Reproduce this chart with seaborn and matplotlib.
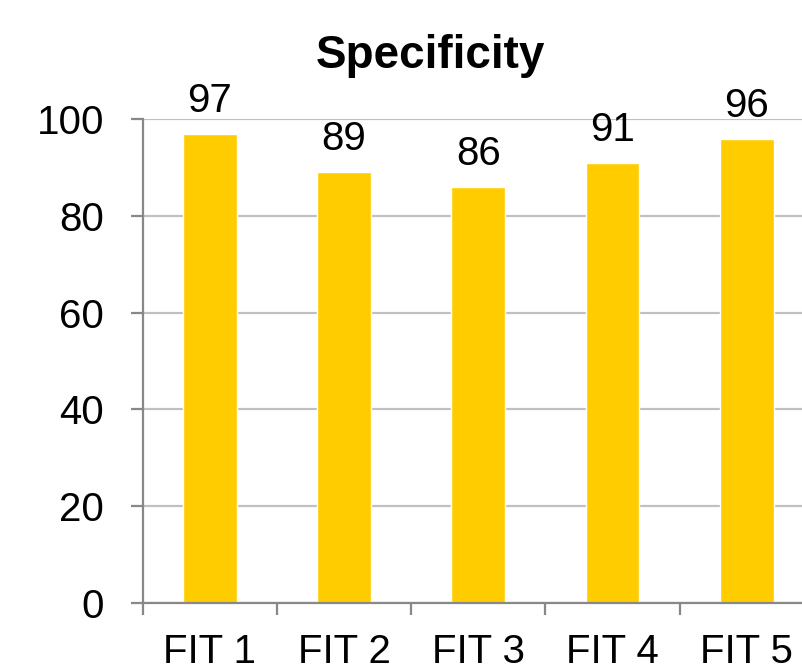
import matplotlib
matplotlib.use("Agg")
import matplotlib.pyplot as plt
import seaborn as sns
import pandas as pd
import numpy as np
from matplotlib.ticker import FixedLocator

categories = ["FIT 1", "FIT 2", "FIT 3", "FIT 4", "FIT 5"]
values = [97, 89, 86, 91, 96]
yticks = [0, 20, 40, 60, 80, 100]
title = "Specificity"

sns.set_theme(style="white")
plt.rcParams['font.family'] = ['Liberation Sans', 'DejaVu Sans']

df = pd.DataFrame({"cat": categories, "val": values})

fig = plt.figure(figsize=(8.03, 6.71), dpi=100)
ax = fig.add_axes([142.7/803, (671-602.7)/671, (814-142.7)/803, (602.7-119.2)/671])

sns.barplot(data=df, x="cat", y="val", color="#FFCC00", saturation=1,
            width=0.4, ax=ax, zorder=3)

ax.set_xlim(-0.5, len(categories) - 0.5)
ax.set_ylim(0, 100)
ax.set_yticks(yticks)
ax.set_yticklabels([str(t) for t in yticks], fontsize=29)
ax.set_xlabel("")
ax.set_ylabel("")
ax.set_xticks(range(len(categories)))
ax.set_xticklabels(categories, fontsize=29)

ax.yaxis.grid(True, color="#c0c0c0", linewidth=1.6, zorder=0)
ax.set_axisbelow(True)
for s in ["top", "right"]:
    ax.spines[s].set_visible(False)
for s in ["left", "bottom"]:
    ax.spines[s].set_color("#888888")
    ax.spines[s].set_linewidth(1.6)
    ax.spines[s].set_zorder(4)

ax.tick_params(axis="y", which="major", length=8.6, width=1.6, color="#888888",
               pad=19, left=True, labelcolor="black")
ax.tick_params(axis="x", which="major", length=0, pad=21.5, labelcolor="black")
ax.xaxis.set_minor_locator(FixedLocator(np.arange(-0.5, len(categories) + 0.5, 1.0)))
ax.tick_params(axis="x", which="minor", length=8.6, width=1.6, color="#888888",
               bottom=True)

for i, v in enumerate(values):
    ax.annotate(str(v), (i, v), xytext=(0, 15.8), textcoords="offset points",
                ha="center", va="baseline", fontsize=29, color="black")

fig.text(430/803, (671-68.3)/671, title, ha="center", va="baseline",
         fontsize=33, fontweight="bold", color="black")

fig.savefig("out.png", dpi=100)
